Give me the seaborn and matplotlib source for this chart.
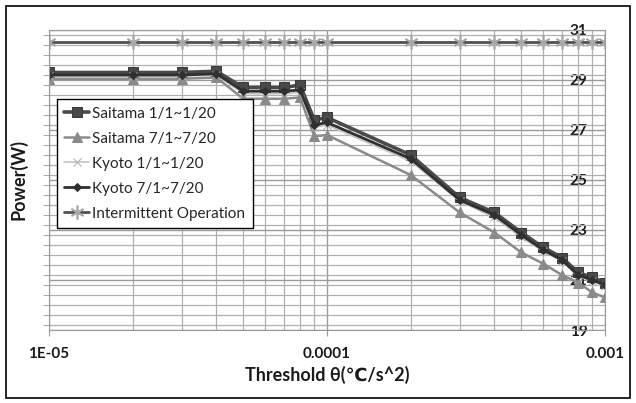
import numpy as np
import pandas as pd
import matplotlib
matplotlib.use("Agg")
import matplotlib.pyplot as plt
import matplotlib.ticker as mticker
from matplotlib.patches import Rectangle
import seaborn as sns

# Data
thresholds = [1e-5, 2e-5, 3e-5, 4e-5, 5e-5, 6e-5, 7e-5, 8e-5, 9e-5,
              1e-4, 2e-4, 3e-4, 4e-4, 5e-4, 6e-4, 7e-4, 8e-4, 9e-4, 1e-3]
saitama_jan = [29.3, 29.3, 29.3, 29.35, 28.7, 28.7, 28.7, 28.8, 27.4,
               27.5, 26.0, 24.3, 23.7, 22.9, 22.3, 21.9, 21.3, 21.1, 20.9]
saitama_jul = [29.05, 29.05, 29.05, 29.1, 28.25, 28.25, 28.25, 28.3, 26.75,
               26.8, 25.2, 23.7, 22.9, 22.1, 21.65, 21.2, 20.9, 20.5, 20.3]
kyoto_jan = [29.15, 29.15, 29.15, 29.2, 28.45, 28.45, 28.45, 28.5, 27.1,
             27.2, 25.75, 24.15, 23.5, 22.7, 22.15, 21.75, 21.15, 20.95, 20.75]
kyoto_jul = [29.2, 29.2, 29.2, 29.25, 28.55, 28.55, 28.55, 28.6, 27.2,
             27.3, 25.85, 24.2, 23.6, 22.8, 22.2, 21.8, 21.2, 21.0, 20.8]
intermittent = [30.5, 30.5, 30.5, 30.5, 30.5, 30.5, 30.5, 30.5, 30.5,
                30.5, 30.5, 30.5, 30.5, 30.5, 30.5, 30.5, 30.5, 30.5, 30.5]
series_names = ["Saitama 1/1~1/20", "Saitama 7/1~7/20", "Kyoto 1/1~1/20",
                "Kyoto 7/1~7/20", "Intermittent Operation"]
x_tick_labels = ["1E-05", "0.0001", "0.001"]
y_ticks = [19, 21, 23, 25, 27, 29, 31]

sns.set_style("white")
plt.rcParams['font.family'] = ['Lato', 'DejaVu Sans']

fig = plt.figure(figsize=(6.36, 4.03), dpi=100)
ax = fig.add_axes([49 / 636, 1 - 330 / 403, 556 / 636, 300 / 403])

# outer chart border
fig.patches.append(Rectangle((6 / 636, 5 / 403), 624 / 636, 392 / 403,
                             transform=fig.transFigure, fill=False,
                             edgecolor='black', linewidth=1.2))

styles = [
    dict(color='#4a4a4a', marker='s', markersize=7, linewidth=2.6, mec='#3a3a3a'),
    dict(color='#8a8a8a', marker='^', markersize=7, linewidth=1.8, mec='#8a8a8a'),
    dict(color='#c4c4c4', marker='x', markersize=6, linewidth=1.2, mec='#b0b0b0'),
    dict(color='#303030', marker='D', markersize=4.5, linewidth=2.0, mec='#303030'),
    dict(color='#505050', marker=(6, 2, 0), markersize=10, linewidth=2.0,
         mec='#a8a8a8', mew=1.2),
]
all_values = [saitama_jan, saitama_jul, kyoto_jan, kyoto_jul, intermittent]

for name, vals, st in zip(series_names, all_values, styles):
    sns.lineplot(x=thresholds, y=vals, ax=ax, label=name, **st)

ax.set_xscale('log')
ax.set_xlim(1e-5, 1e-3)
ax.set_ylim(19, 31)

# x axis
ax.xaxis.set_major_locator(mticker.FixedLocator([1e-5, 1e-4, 1e-3]))
ax.xaxis.set_major_formatter(mticker.FixedFormatter(x_tick_labels))
ax.xaxis.set_minor_locator(mticker.LogLocator(base=10, subs=np.arange(2, 10)))
ax.xaxis.set_minor_formatter(mticker.NullFormatter())
ax.tick_params(axis='x', which='major', bottom=True, length=4, color='#999999',
               pad=8, labelsize=11, labelcolor='#1a1a1a')
ax.tick_params(axis='x', which='minor', bottom=False)
for lbl in ax.get_xticklabels():
    lbl.set_fontweight('bold')

# y axis: labels drawn inside at the right, minor tick marks on the left
ax.yaxis.set_major_locator(mticker.FixedLocator(y_ticks))
ax.yaxis.set_minor_locator(mticker.MultipleLocator(0.4))
ax.tick_params(axis='y', which='major', left=False, right=False,
               labelleft=False, labelright=True, pad=-29, labelsize=11,
               labelcolor='#1a1a1a')
ax.tick_params(axis='y', which='minor', left=True, length=4, color='#999999')
for lbl in ax.get_yticklabels():
    lbl.set_fontweight('bold')

ax.grid(True, which='major', color='#9a9a9a', linewidth=1.0)
ax.grid(True, which='minor', color='#b0b0b0', linewidth=0.9)
ax.set_axisbelow(True)
for sp in ax.spines.values():
    sp.set_color('#9a9a9a')

ax.set_xlabel("Threshold θ(℃/s^2)", fontsize=13, fontweight='bold', labelpad=4,
              color='#1a1a1a')
ax.set_ylabel("Power(W)", fontsize=13, fontweight='bold', labelpad=8,
              color='#1a1a1a')

leg = ax.legend(loc='upper left', bbox_to_anchor=(0.014, 0.77), fontsize=11,
                frameon=True, fancybox=False, framealpha=1, edgecolor='black',
                labelspacing=0.72, handlelength=1.6, handletextpad=0.2,
                borderpad=0.5, borderaxespad=0)
leg.get_frame().set_linewidth(1.0)

fig.savefig("out.png", dpi=100)
